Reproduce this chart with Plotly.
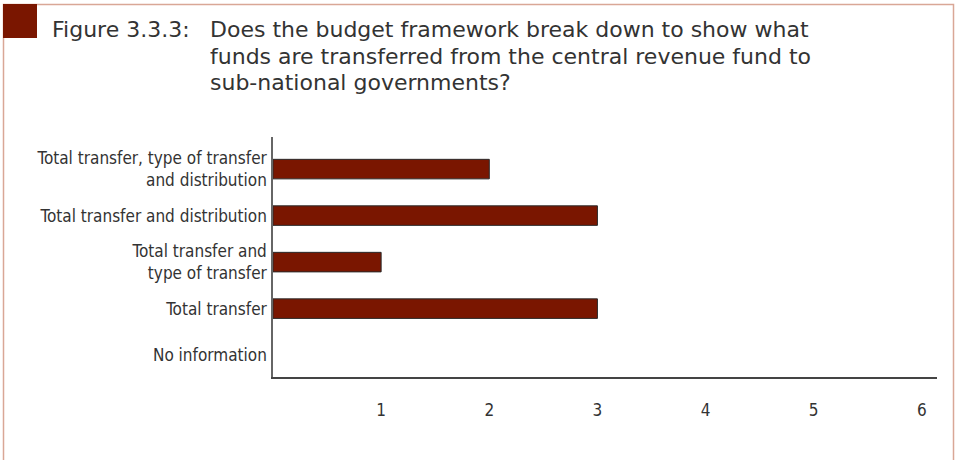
import plotly.graph_objects as go

# Survey categories (bottom to top) and the number of countries in each
categories = [
    "No information",
    "Total transfer",
    "Total transfer and<br>type of transfer",
    "Total transfer and distribution",
    "Total transfer, type of transfer<br>and distribution",
]
counts = [0, 3, 1, 3, 2]
tick_values = [1, 2, 3, 4, 5, 6]

title_label = "Figure 3.3.3:"
title_lines = [
    "Does the budget framework break down to show what",
    "funds are transferred from the central revenue fund to",
    "sub-national governments?",
]

W, H = 955, 460
L, R, T, B = 273, 18, 137, 83
PW, PH = W - L - R, H - T - B


def px(x):
    return (x - L) / PW


def py(y):
    return 1 - (y - T) / PH


BAR = "#7a1600"
FRAME = "#d9a796"
TEXT = "#333333"
COND = "DejaVu Sans Condensed, Liberation Sans Narrow, sans-serif"
GEO = "DejaVu Sans, Open Sans, sans-serif"

fig = go.Figure(
    go.Bar(
        x=counts,
        y=list(range(len(categories))),
        orientation="h",
        width=0.42,
        marker=dict(
            color=BAR,
            line=dict(color="#2a2a2a", width=[1 if v else 0 for v in counts]),
        ),
        hoverinfo="skip",
    )
)

fig.update_layout(
    width=W,
    height=H,
    margin=dict(l=L, r=R, t=T, b=B, pad=0),
    paper_bgcolor="white",
    plot_bgcolor="white",
    showlegend=False,
    xaxis=dict(
        range=[0, 6.14],
        tickvals=tick_values,
        ticktext=[str(v) for v in tick_values],
        showgrid=False,
        zeroline=False,
        showline=True,
        linecolor="#444444",
        linewidth=1.5,
        ticks="",
        ticklabelstandoff=17,
        tickfont=dict(family=COND, size=17, color=TEXT),
        fixedrange=True,
    ),
    yaxis=dict(
        range=[-0.47, 4.69],
        tickvals=list(range(len(categories))),
        ticktext=categories,
        showgrid=False,
        zeroline=False,
        showline=True,
        linecolor="#666666",
        linewidth=1.5,
        ticks="",
        ticklabelstandoff=1,
        tickfont=dict(family=COND, size=17, color=TEXT),
        fixedrange=True,
    ),
)

# Frame around the figure and the corner block
fig.add_shape(
    type="path",
    xref="paper", yref="paper",
    path=f"M {px(3.5)} {py(470)} L {px(3.5)} {py(4.5)} L {px(953.5)} {py(4.5)} L {px(953.5)} {py(470)}",
    line=dict(color=FRAME, width=1.5),
    layer="above",
)
fig.add_shape(
    type="rect",
    xref="paper", yref="paper",
    x0=px(3), x1=px(37), y0=py(38), y1=py(4),
    fillcolor=BAR,
    line=dict(width=0),
    layer="above",
)

# Title with hanging indent
fig.add_annotation(
    text=title_label,
    xref="paper", yref="paper",
    x=px(50), y=py(29),
    xanchor="left", yanchor="middle",
    showarrow=False,
    font=dict(family=GEO, size=22, color=TEXT),
)
for i, line in enumerate(title_lines):
    fig.add_annotation(
        text=line,
        xref="paper", yref="paper",
        x=px(208), y=py(29 + 27 * i),
        xanchor="left", yanchor="middle",
        showarrow=False,
        font=dict(family=GEO, size=22, color=TEXT),
    )

fig.write_html("out.html", config=dict(displayModeBar=False))
